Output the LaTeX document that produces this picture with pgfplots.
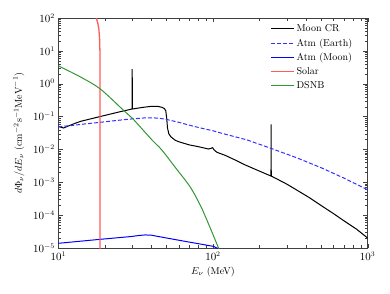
\documentclass[border=0pt]{standalone}
\usepackage{pgfplots}
\pgfplotsset{compat=1.18}
\definecolor{mblue}{RGB}{0,0,255}
\definecolor{eblue}{RGB}{50,50,255}
\definecolor{sred}{RGB}{255,90,90}
\definecolor{dgreen}{RGB}{51,150,51}
\newcommand{\ef}{\fontsize{10.5}{12.5}\selectfont}
\newcommand{\lf}{\fontsize{10}{12}\selectfont}
\begin{document}
\begin{tikzpicture}
\begin{axis}[
  scale only axis, width=309.4pt, height=230pt,
  xmode=log, ymode=log,
  xmin=10, xmax=1000, ymin=1e-5, ymax=100,
  ytick={1e-5,1e-4,1e-3,1e-2,1e-1,1,10,100},
  xtick={10,100,1000},
  axis line style={line width=0.8pt, black!75},
  tick style={black!75},
  tick label style={font=\ef},
  label style={font=\lf},
  xlabel={$E_\nu$ (MeV)},
  ylabel={$d\Phi_\nu/dE_\nu\ (\mathrm{cm}^{-2}\mathrm{s}^{-1}\mathrm{MeV}^{-1})$},
  ylabel style={at={(axis description cs:-0.128,0.5)}, anchor=center},
  xlabel style={at={(axis description cs:0.5,-0.103)}, anchor=center},
  legend style={draw=none, fill=none, font=\lf, at={(axis description cs:0.967,0.99)}, anchor=north east, row sep=1.5pt},
  legend cell align=left,
  legend image code/.code={\draw[#1] (0pt,0pt) -- (23pt,0pt);},
]
\addlegendimage{black, line width=1pt}
\addlegendentry{Moon CR}
\addlegendimage{eblue, line width=1pt, dash pattern=on 4pt off 2pt}
\addlegendentry{Atm (Earth)}
\addlegendimage{mblue, line width=1pt}
\addlegendentry{Atm (Moon)}
\addlegendimage{sred, line width=1.3pt}
\addlegendentry{Solar}
\addlegendimage{dgreen, line width=1pt}
\addlegendentry{DSNB}
% Moon CR
\addplot[black, line width=1pt, forget plot] coordinates {
(10,0.05) (10.8,0.045) (12.8,0.062) (14,0.072) (18.6,0.1) (25,0.14) (30.0,0.17) (30.05,2.8) (30.1,0.17)
(35,0.19) (40,0.205) (44,0.205) (47,0.19) (48.5,0.175) (49.5,0.15) (50.2,0.09) (50.8,0.045) (51.8,0.03)
(53.5,0.024) (57,0.019) (60,0.0172) (70,0.0138) (80,0.0122) (93.5,0.0103) (97,0.0108) (99.3,0.0113)
(102,0.0095) (106,0.0082) (120,0.0066) (140,0.0047) (161,0.0034) (187,0.0025) (237,0.00155)
(237.5,0.058) (238,0.00155) (300,0.00088) (350,0.00057) (420,0.00034) (507,0.000188) (600,0.000112)
(700,0.000068) (850,0.000037) (1000,0.00002)
};
% Atm (Earth)
\addplot[eblue, line width=1pt, dash pattern=on 4pt off 2pt, forget plot] coordinates {
(10,0.049) (12,0.053) (15,0.06) (18.7,0.067) (25,0.078) (30,0.085) (36,0.091) (40,0.092) (45,0.089)
(50,0.082) (60,0.067) (70,0.055) (83,0.045) (100,0.037) (114,0.031) (166,0.0195) (237,0.0108)
(350,0.0055) (507,0.0027) (700,0.00135) (1000,0.00059)
};
% Atm (Moon)
\addplot[mblue, line width=1pt, forget plot] coordinates {
(10,1.39e-5) (18.7,1.84e-5) (30,2.25e-5) (33,2.4e-5) (36.4,2.5e-5) (40,2.45e-5) (50,2.02e-5)
(60,1.73e-5) (71.5,1.49e-5) (83,1.32e-5) (100.7,1.12e-5) (106,1.0e-5) (110,0.93e-5)
};
% Solar
\addplot[sred, line width=1.3pt, forget plot] coordinates {
(17.45,110) (17.6,100) (18.0,70) (18.3,45) (18.5,22) (18.6,8) (18.62,1) (18.62,1e-6)
};
% DSNB
\addplot[dgreen, line width=1pt, smooth, forget plot] coordinates {
(10,3.5) (13.8,1.64) (18.7,0.69) (26.3,0.158) (30.1,0.089) (40.3,0.0195) (46.7,0.0096) (57.5,0.0027)
(71.1,0.00073) (82.6,0.000204) (91.3,0.000071) (108.6,0.00001) (112,0.000007)
};
\end{axis}
\path (current axis.south west) ++(-58.3pt,-45pt) rectangle ++(390pt,293pt);
\end{tikzpicture}
\end{document}
